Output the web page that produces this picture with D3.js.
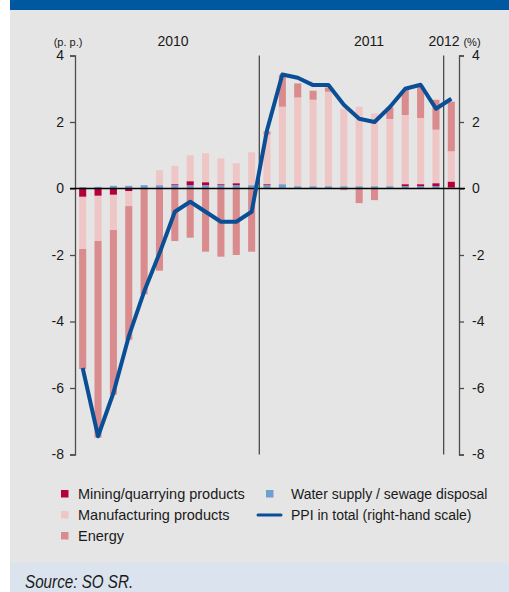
<!DOCTYPE html>
<html>
<head>
<meta charset="utf-8">
<script src="https://cdn.jsdelivr.net/npm/d3@7/dist/d3.min.js"></script>
<style>
  html, body { margin: 0; padding: 0; background: #ffffff; }
  svg { display: block; }
  text { font-family: "Liberation Sans", Arial, sans-serif; fill: #1a1a1a; }
</style>
</head>
<body>
<svg id="chart" width="509" height="592"></svg>
<script>
// ---------------- DATA ----------------
const months = [
  "2010-01","2010-02","2010-03","2010-04","2010-05","2010-06","2010-07","2010-08","2010-09","2010-10","2010-11","2010-12",
  "2011-01","2011-02","2011-03","2011-04","2011-05","2011-06","2011-07","2011-08","2011-09","2011-10","2011-11","2011-12",
  "2012-01"
];
const water = [0.04,0.05,0.08,0.08,0.10,0.10,0.10,0.10,0.10,0.10,0.10,0.10,
               0.10,0.13,0.07,0.07,0.07,0.07,0.07,0.07,0.07,0.07,0.07,0.07,
               0.03];
const mining = [-0.25,-0.22,-0.19,-0.08,0,0,0.03,0.12,0.09,0.03,0.06,0,
                0.03,0,0,0,0,0,0,0,0,0.06,0.06,0.09,
                0.18];
const manufacturing = [-1.57,-1.36,-1.06,-0.45,0,0.45,0.55,0.78,0.87,0.78,0.60,0.99,
                       1.49,2.33,2.67,2.60,2.84,2.33,2.39,2.19,2.02,2.08,1.99,1.61,
                       0.91];
const energy = [-3.61,-5.91,-4.95,-4.02,-3.18,-2.47,-1.58,-1.48,-1.90,-2.05,-2.00,-1.90,
                0.10,0.96,0.42,0.27,0.13,-0.05,-0.44,-0.35,0.35,0.75,0.97,0.90,
                1.49];
const ppi = [-5.40,-7.45,-6.15,-4.45,-3.10,-1.95,-0.70,-0.40,-0.70,-1.00,-1.00,-0.70,
             1.75,3.43,3.33,3.11,3.11,2.52,2.10,2.00,2.45,3.00,3.12,2.40,
             2.70];
const yTicks = [4,2,0,-2,-4,-6,-8];
const yearLabels = ["2010","2011","2012"];
const yearSeparators = ["2011-01","2012-01"];
const seriesKeys = ["water","mining","manufacturing","energy"];
const seriesNames = {
  mining: "Mining/quarrying products",
  water: "Water supply / sewage disposal",
  manufacturing: "Manufacturing products",
  energy: "Energy",
  ppi: "PPI in total (right-hand scale)"
};
const colors = {
  mining: "#b3003b",
  water: "#6e9fd1",
  manufacturing: "#efc6c6",
  energy: "#d98b8d",
  ppi: "#0a4f96"
};

// ---------------- LAYOUT ----------------
const svg = d3.select("#chart");
const W = 509, H = 592;

// backgrounds
svg.append("rect").attr("x",10).attr("y",0).attr("width",W-10).attr("height",10).attr("fill","#0058a1");
svg.append("rect").attr("x",10).attr("y",10).attr("width",W-10).attr("height",553).attr("fill","#e5e5e5");
svg.append("rect").attr("x",10).attr("y",563).attr("width",W-10).attr("height",H-563).attr("fill","#dbe4ee");

const xLeft = 75, xRight = 459;
const x = d3.scaleBand().domain(months).range([xLeft, xRight]).paddingInner(0.54).paddingOuter(0.27);
const y = d3.scaleLinear().domain([-8, 4]).range([454.5, 55.5]);

const table = months.map((m,i) => ({month:m, water:water[i], mining:mining[i], manufacturing:manufacturing[i], energy:energy[i], ppi:ppi[i]}));
const stacked = d3.stack().keys(seriesKeys).offset(d3.stackOffsetDiverging)(table);

// bars
const g = svg.append("g");
stacked.forEach(layer => {
  g.append("g").attr("fill", colors[layer.key])
    .selectAll("rect").data(layer).join("rect")
    .attr("x", d => x(d.data.month))
    .attr("width", x.bandwidth())
    .attr("y", d => y(Math.max(d[0], d[1])))
    .attr("height", d => Math.abs(y(d[0]) - y(d[1])));
});

// year separators
const boundary = m => x(m) - x.step() * x.paddingOuter();
svg.append("g").selectAll("line").data(yearSeparators).join("line")
  .attr("x1", d => boundary(d)).attr("x2", d => boundary(d))
  .attr("y1", y(4)).attr("y2", y(-8))
  .attr("stroke", "#4d4d4d").attr("stroke-width", 1.3);

// axes
const leftAxis = svg.append("g").attr("transform", `translate(${xLeft},0)`)
  .call(d3.axisLeft(y).tickValues(yTicks).tickSize(5).tickSizeOuter(5).tickPadding(6).tickFormat(d => String(d)));
const rightAxis = svg.append("g").attr("transform", `translate(${xRight},0)`)
  .call(d3.axisRight(y).tickValues(yTicks).tickSize(5).tickSizeOuter(5).tickPadding(8).tickFormat(d => String(d)));
[leftAxis, rightAxis].forEach(a => {
  a.select(".domain").attr("stroke", "#4d4d4d").attr("stroke-width", 1.3);
  a.selectAll(".tick line").attr("stroke", "#4d4d4d").attr("stroke-width", 1.3);
  a.selectAll(".tick text").attr("font-size", 14).attr("fill", "#1a1a1a").style("font-family", '"Liberation Sans", Arial, sans-serif');
});

// zero line
svg.append("line").attr("x1", xLeft - 5).attr("x2", xRight + 6)
  .attr("y1", y(0)).attr("y2", y(0)).attr("stroke", "#000").attr("stroke-width", 1.5);

// PPI line
svg.append("path").datum(table)
  .attr("fill", "none").attr("stroke", colors.ppi).attr("stroke-width", 4)
  .attr("stroke-linejoin", "round")
  .attr("d", d3.line().x(d => x(d.month) + x.bandwidth()/2).y(d => y(d.ppi)));

// header labels
svg.append("text").attr("x", 68).attr("y", 46).attr("text-anchor","middle").attr("font-size", 11).text("(p. p.)");
const yearX = [173, 369, 444];
svg.append("g").selectAll("text").data(yearLabels).join("text")
  .attr("x", (d,i) => yearX[i]).attr("y", 46).attr("text-anchor","middle").attr("font-size", 14).text(d => d);
svg.append("text").attr("x", 472).attr("y", 46).attr("text-anchor","middle").attr("font-size", 11).text("(%)");

// legend
const legendItems = [
  {key:"mining", col:0, row:0, type:"rect"},
  {key:"water", col:1, row:0, type:"rect"},
  {key:"manufacturing", col:0, row:1, type:"rect"},
  {key:"ppi", col:1, row:1, type:"line"},
  {key:"energy", col:0, row:2, type:"rect"}
];
const lg = svg.append("g");
legendItems.forEach(it => {
  const cy = 493.5 + it.row * 21;
  const sx = it.col === 0 ? 61 : 266;
  const tx = it.col === 0 ? 78 : 291;
  if (it.type === "rect") {
    lg.append("rect").attr("x", sx).attr("y", cy - 3.5).attr("width", 7.5).attr("height", 7.5).attr("fill", colors[it.key]);
  } else {
    lg.append("line").attr("x1", 258).attr("x2", 281).attr("y1", cy + 0.5).attr("y2", cy + 0.5)
      .attr("stroke", colors.ppi).attr("stroke-width", 3).attr("stroke-linecap", "round");
  }
  lg.append("text").attr("x", tx).attr("y", cy + 5).attr("font-size", it.col === 0 ? 14.5 : 14).text(seriesNames[it.key]);
});

// source
svg.append("text").attr("transform", "translate(25,588) scale(0.87,1)")
  .attr("font-size", 17.5).attr("font-style","italic")
  .style("font-family", '"Liberation Sans", Arial, sans-serif')
  .text("Source: SO SR.");
</script>
</body>
</html>
